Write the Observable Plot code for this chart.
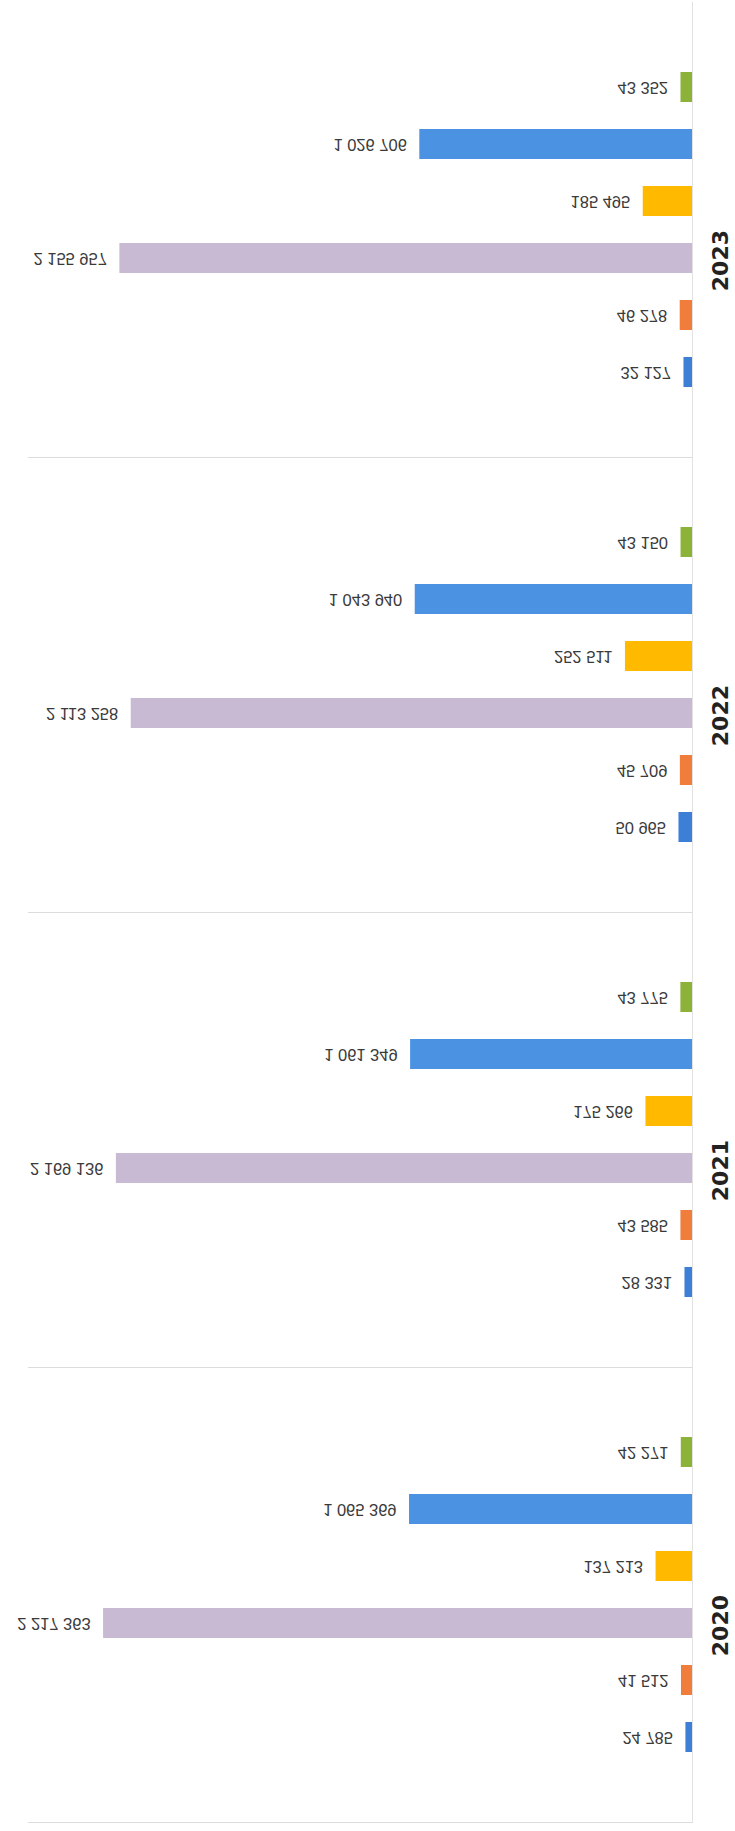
<!DOCTYPE html>
<html>
<head>
<meta charset="utf-8">
<script src="https://cdn.jsdelivr.net/npm/d3@7"></script>
<script src="https://cdn.jsdelivr.net/npm/@observablehq/plot@0.6"></script>
<style>
  html, body { margin: 0; padding: 0; background: #ffffff; }
  #chart svg { display: block; }
</style>
</head>
<body>
<div id="chart"></div>
<script>
// ---- data ----
const years = [2020, 2021, 2022, 2023];
const seriesNames = ["S1", "S2", "S3", "S4", "S5", "S6"];
const seriesColors = ["#3d7fd6", "#f07d3c", "#c7bad2", "#ffba00", "#4b92e3", "#8cb23a"];
const s1Values = [24785, 28331, 50965, 32127];
const s2Values = [41512, 43585, 45709, 46278];
const s3Values = [2217363, 2169136, 2113258, 2155957];
const s4Values = [137213, 175266, 252511, 185495];
const s5Values = [1065369, 1061349, 1043940, 1026706];
const s6Values = [42271, 43775, 43150, 43352];

const allValues = [s1Values, s2Values, s3Values, s4Values, s5Values, s6Values];
const rows = [];
years.forEach((yr, yi) => {
  seriesNames.forEach((s, si) => {
    rows.push({year: yr, series: s, value: allValues[si][yi]});
  });
});

const fmt = d3.formatLocale({decimal: ",", thousands: " ", grouping: [3], currency: ["", ""]}).format(",d");

const LABEL_SIZE = 16.5;

const chart = Plot.plot({
  width: 735,
  height: 1831,
  marginTop: 2,
  marginBottom: 9,
  marginLeft: 28,
  marginRight: 43,
  style: {fontFamily: "Liberation Sans, Arial, sans-serif", background: "#ffffff"},
  x: {domain: [0, 2500000], reverse: true, axis: null},
  y: {domain: seriesNames.slice().reverse(), paddingInner: 0.48, paddingOuter: 1.18, axis: null},
  fy: {domain: years.slice().reverse(), padding: 0, axis: null},
  color: {domain: seriesNames, range: seriesColors},
  marks: [
    Plot.frame({anchor: "bottom", stroke: "#dcdcdc", strokeWidth: 1}),
    Plot.ruleX([0], {stroke: "#e2e2e2", strokeWidth: 1}),
    Plot.barX(rows, {x: "value", y: "series", fy: "year", fill: "series"}),
    Plot.text(rows, {
      x: "value", y: "series", fy: "year",
      text: d => fmt(d.value),
      textAnchor: "end", dx: -13,
      fontSize: LABEL_SIZE, fill: "#3a3a3a"
    }),
    Plot.text(years, {
      fy: d => d, text: d => String(d),
      frameAnchor: "right", dx: 28, rotate: -90,
      fontSize: 22, fontWeight: "bold", fill: "#222222",
      fontFamily: "DejaVu Sans, sans-serif"
    })
  ]
});

document.getElementById("chart").appendChild(chart);

// the value labels are mirrored vertically in the reference
d3.select(chart).selectAll("text").each(function () {
  const node = this;
  const fsNode = node.closest('[font-size]');
  const fs = fsNode ? fsNode.getAttribute("font-size") : null;
  if (fs !== String(LABEL_SIZE)) return;
  const t = d3.select(node);
  const tr = t.attr("transform");
  if (tr) {
    t.attr("transform", tr + " scale(1,-1)");
  } else {
    const y = +t.attr("y") || 0;
    t.attr("transform", `matrix(1,0,0,-1,0,${2 * y})`);
  }
});
</script>
</body>
</html>
